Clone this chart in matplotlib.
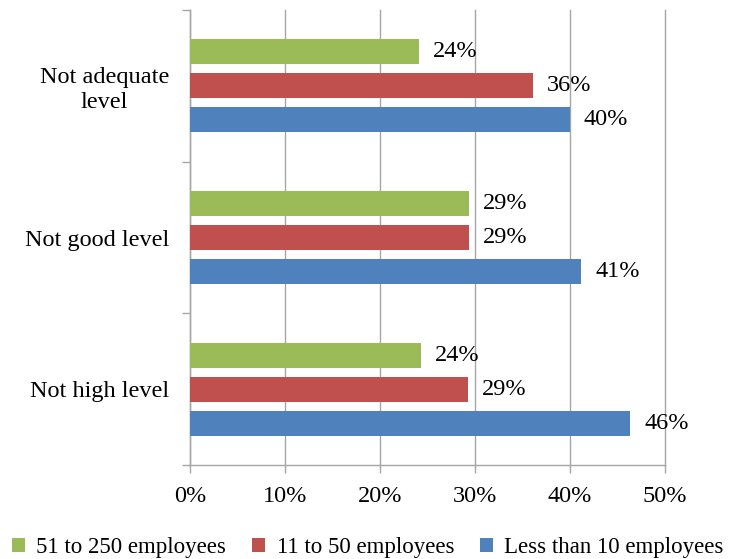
import matplotlib
matplotlib.use("Agg")
import matplotlib.pyplot as plt
import numpy as np

# Data
categories = ["Not adequate\nlevel", "Not good level", "Not high level"]
series_names = ["51 to 250 employees", "11 to 50 employees", "Less than 10 employees"]
medium = [24.1, 29.4, 24.3]   # 51 to 250 employees
small = [36.1, 29.4, 29.3]    # 11 to 50 employees
micro = [40.0, 41.2, 46.4]    # less than 10 employees
xticks = [0, 10, 20, 30, 40, 50]

colors = ["#9BBB59", "#C0504D", "#4F81BD"]
grid_color = "#A6A6A6"
fs = 17.5

plt.rcParams["font.family"] = ["Liberation Serif", "DejaVu Serif"]

fig = plt.figure(figsize=(7.36, 5.59), dpi=100)
ax = fig.add_axes([0.258, 0.168, 0.645, 0.814])

ind = np.arange(len(categories))
offset = 0.224
height = 0.164

for k, vals in enumerate([medium, small, micro]):
    pos = ind + (k - 1) * offset
    ax.barh(pos, vals, height=height, color=colors[k], label=series_names[k],
            zorder=3)
    for y, v in zip(pos, vals):
        ax.text(v + 1.5, y, "%d%%" % round(v), va="center", ha="left",
                fontsize=fs, zorder=4)

ax.set_xlim(0, 50)
ax.set_ylim(len(categories) - 0.5, -0.5)

ax.set_xticks(xticks)
ax.set_xticklabels(["%d%%" % t for t in xticks], fontsize=fs)
ax.xaxis.grid(True, color=grid_color, linewidth=1, zorder=0)
for line in ax.get_xgridlines():
    line.set_clip_on(False)

# category labels at centres, tick marks at the boundaries
ax.set_yticks(ind)
ax.set_yticklabels(categories, fontsize=fs, multialignment="center")
ax.tick_params(axis="y", length=0, pad=15)
ax.set_yticks(np.arange(-0.5, len(categories), 1), minor=True)
ax.tick_params(axis="y", which="minor", length=6, color=grid_color, width=1)
ax.tick_params(axis="x", length=6, color=grid_color, width=1, pad=9)

for side in ["top", "right"]:
    ax.spines[side].set_visible(False)
for side in ["left", "bottom"]:
    ax.spines[side].set_color(grid_color)
    ax.spines[side].set_linewidth(1)

fig.legend(loc="lower center", bbox_to_anchor=(0.5, -0.035), ncol=3,
           frameon=False, fontsize=16.5, handlelength=0.55, handleheight=0.55,
           handletextpad=0.5, columnspacing=1.15)

fig.savefig("out.png", dpi=100)
